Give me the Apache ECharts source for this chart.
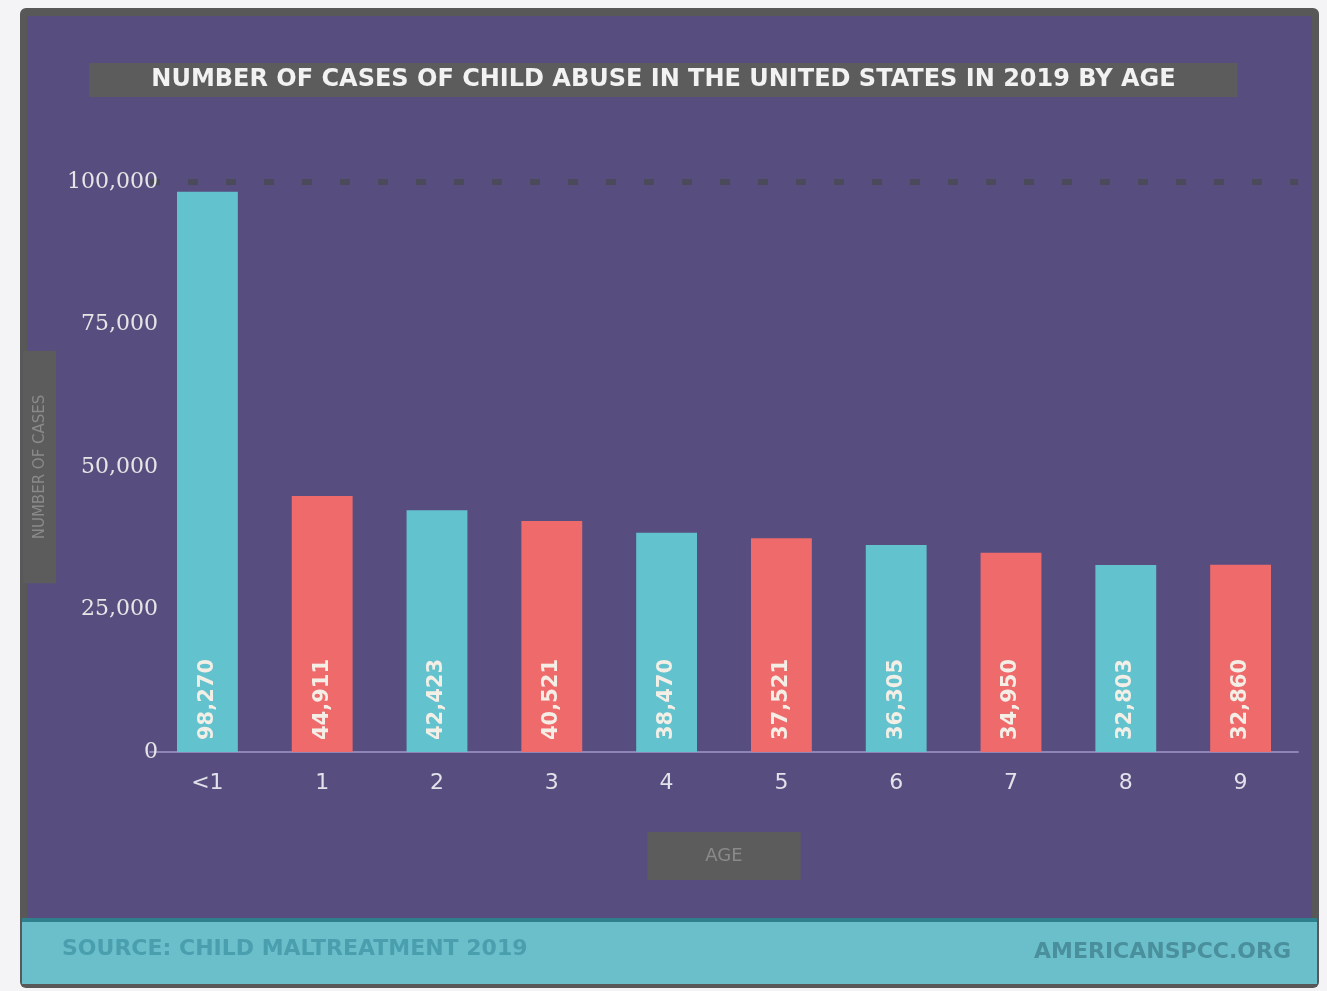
<!DOCTYPE html>
<html><head><meta charset="utf-8">
<script src="https://cdn.jsdelivr.net/npm/echarts@6/dist/echarts.min.js"></script>
<style>html,body{margin:0;padding:0;background:#f4f4f6;}#c{width:1327px;height:991px;}</style>
</head><body><div id="c"></div>
<script>
const categories = ['<1','1','2','3','4','5','6','7','8','9'];
const cases = [98270, 44911, 42423, 40521, 38470, 37521, 36305, 34950, 32803, 32860];
const yTicks = [0, 25000, 50000, 75000, 100000];
const titleText = 'NUMBER OF CASES OF CHILD ABUSE IN THE UNITED STATES IN 2019 BY AGE';
const barColors = ['#62c2ce', '#ef6b6b'];

const chart = echarts.init(document.getElementById('c'));
const fmt = v => v.toLocaleString('en-US');
chart.setOption({
  backgroundColor: '#f4f4f6',
  graphic: [
    {type:'rect', shape:{x:20,y:8,width:1299,height:980,r:6}, style:{fill:'#585858'}, z:-10},
    {type:'rect', shape:{x:27,y:16,width:1285,height:904}, style:{fill:'#574d7f'}, z:-9},
    {type:'rect', shape:{x:22,y:918,width:1295,height:66}, style:{fill:'#6bbfcb'}, z:-9},
    {type:'rect', shape:{x:22,y:918,width:1295,height:4}, style:{fill:'#2f7f8c'}, z:-8},
    {type:'text', left:62, top:938, style:{text:'SOURCE: CHILD MALTREATMENT 2019', fill:'#4a9fae', font:'bold 22px "DejaVu Sans"'}},
    {type:'text', right:36, top:941, style:{text:'AMERICANSPCC.ORG', fill:'#4a8f9c', font:'bold 22px "DejaVu Sans"'}}
  ],
  title: {
    text: titleText, left: 'center', top: 63,
    backgroundColor: '#5c5c5c', padding: [5, 62],
    textStyle: {color: '#f2f2f2', fontFamily: 'DejaVu Sans', fontWeight: 'bold', fontSize: 24}
  },
  grid: {left: 150, right: 29, top: 182, bottom: 239},
  xAxis: {
    type: 'category', data: categories,
    name: 'AGE', nameLocation: 'middle', nameGap: 80,
    nameTextStyle: {color: '#8a8a8a', fontSize: 18, fontFamily: 'DejaVu Sans', backgroundColor: '#5c5c5c', padding: [15, 58]},
    axisLine: {lineStyle: {color: '#8d84b8', width: 2}},
    axisTick: {show: false},
    axisLabel: {color: '#e2e2ea', fontSize: 22, fontFamily: 'DejaVu Sans', margin: 20}
  },
  yAxis: {
    type: 'value', min: 0, max: 100000, interval: 25000,
    name: 'NUMBER OF CASES', nameLocation: 'middle', nameGap: 90, nameRotate: 90,
    nameTextStyle: {color: '#8a8a8a', fontSize: 15, fontFamily: 'DejaVu Sans', backgroundColor: '#5c5c5c', padding: [9, 44]},
    axisLine: {show: false}, axisTick: {show: false},
    axisLabel: {color: '#e6e6e6', fontSize: 22, fontFamily: 'DejaVu Serif', margin: -8,
      formatter: v => yTicks.includes(v) ? fmt(v) : ''},
    splitLine: {lineStyle: {type: [10, 28], width: 6, color: ['transparent','transparent','transparent','transparent','#4a4a5a']}}
  },
  series: [{
    type: 'bar', data: cases, barWidth: '53%',
    itemStyle: {color: p => barColors[p.dataIndex % 2]},
    label: {show: true, position: 'insideBottom', rotate: 90, align: 'left', verticalAlign: 'middle',
      distance: 12, color: '#f3eee6', fontSize: 21, fontWeight: 'bold', fontFamily: 'DejaVu Sans',
      formatter: p => fmt(p.value)}
  }]
});
</script></body></html>
